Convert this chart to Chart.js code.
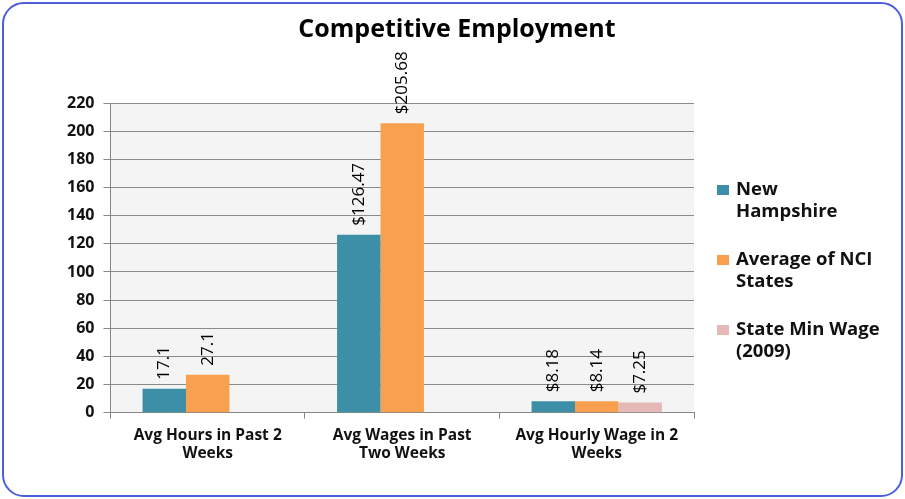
<!DOCTYPE html>
<html>
<head>
<meta charset="utf-8">
<script src="https://cdn.jsdelivr.net/npm/chart.js@4.4.1/dist/chart.umd.min.js"></script>
<style>
  html, body { margin: 0; padding: 0; background: #fff; }
  #wrap { position: relative; width: 905px; height: 499px; }
  #frame {
    position: absolute; left: 2px; top: 2px; width: 897px; height: 491px;
    border: 2px solid #4b5ee0; border-radius: 22px; pointer-events: none;
  }
</style>
</head>
<body>
<div id="wrap">
  <canvas id="chart" width="905" height="499"></canvas>
  <div id="frame"></div>
</div>
<script>
// Data
const chartTitle = 'Competitive Employment';
const categories = [
    ['Avg Hours in Past 2', 'Weeks'],
    ['Avg Wages in Past', 'Two Weeks'],
    ['Avg Hourly Wage in 2', 'Weeks']
];
const seriesNames = ['New Hampshire', 'Average of NCI States', 'State Min Wage (2009)'];
const legendLines = [['New', 'Hampshire'], ['Average of NCI', 'States'], ['State Min Wage', '(2009)']];
const newHampshire = [17.1, 126.47, 8.18];
const nciAverage = [27.1, 205.68, 8.14];
const stateMinWage = [null, null, 7.25];
const valueLabels = [
    ['17.1', '$126.47', '$8.18'],
    ['27.1', '$205.68', '$8.14'],
    [null, null, '$7.25']
];
const yTicks = [0, 20, 40, 60, 80, 100, 120, 140, 160, 180, 200, 220];

const FONT = '"Open Sans", "Liberation Sans", sans-serif';
const colors = ['#3d8fa7', '#f9a04f', '#e6b8b7'];

// light gray plot background
const plotBackground = {
    id: 'plotBackground',
    beforeDraw(chart) {
        const a = chart.chartArea;
        const ctx = chart.ctx;
        ctx.save();
        ctx.fillStyle = '#f4f4f4';
        ctx.fillRect(a.left, a.top, a.right - a.left, a.bottom - a.top);
        ctx.restore();
    }
};

// rotated value labels above bars
const barValueLabels = {
    id: 'barValueLabels',
    afterDatasetsDraw(chart) {
        const ctx = chart.ctx;
        ctx.save();
        ctx.font = '17px ' + FONT;
        ctx.fillStyle = '#000';
        ctx.textAlign = 'left';
        ctx.textBaseline = 'middle';
        chart.data.datasets.forEach((ds, i) => {
            const meta = chart.getDatasetMeta(i);
            meta.data.forEach((bar, j) => {
                const txt = valueLabels[i][j];
                if (!txt) return;
                ctx.save();
                ctx.translate(bar.x, bar.y - 9);
                ctx.rotate(-Math.PI / 2);
                ctx.fillText(txt, 0, 0);
                ctx.restore();
            });
        });
        ctx.restore();
    }
};

// title centred on the whole picture + legend on the right with wrapped labels
const sideLegend = {
    id: 'sideLegend',
    afterDraw(chart) {
        const ctx = chart.ctx;
        ctx.save();
        ctx.font = 'bold 25px ' + FONT;
        ctx.fillStyle = '#000';
        ctx.textAlign = 'center';
        ctx.textBaseline = 'middle';
        ctx.fillText(chartTitle, 457, 30);

        const x = 717;
        const tops = [190, 260, 330];
        ctx.font = 'bold 18.5px ' + FONT;
        ctx.textAlign = 'left';
        chart.data.datasets.forEach((ds, i) => {
            const y = tops[i];
            ctx.fillStyle = ds.backgroundColor;
            ctx.fillRect(x, y - 5, 12, 10);
            ctx.fillStyle = '#111';
            legendLines[i].forEach((line, k) => {
                ctx.fillText(line, x + 19, y + k * 22);
            });
        });
        ctx.restore();
    }
};

const ctx = document.getElementById('chart').getContext('2d');
const chart = new Chart(ctx, {
    type: 'bar',
    data: {
        labels: categories,
        datasets: [
            { label: seriesNames[0], data: newHampshire, backgroundColor: colors[0] },
            { label: seriesNames[1], data: nciAverage, backgroundColor: colors[1] },
            { label: seriesNames[2], data: stateMinWage, backgroundColor: colors[2] }
        ]
    },
    options: {
        responsive: false,
        animation: false,
        layout: { padding: { top: 103, left: 58, right: 211, bottom: 29 } },
        datasets: {
            bar: { categoryPercentage: 0.67, barPercentage: 1.0 }
        },
        plugins: {
            legend: { display: false },
            tooltip: { enabled: false },
            title: { display: false }
        },
        scales: {
            x: {
                grid: { drawOnChartArea: false, drawTicks: true, tickLength: 6, color: '#888' },
                border: { color: '#888' },
                ticks: { color: '#111', padding: 7, font: { family: FONT, size: 15.5, weight: 'bold' } }
            },
            y: {
                min: 0,
                max: 220,
                afterBuildTicks(axis) { axis.ticks = yTicks.map(v => ({ value: v })); },
                grid: { color: '#8a8a8a', tickLength: 7 },
                border: { color: '#888' },
                ticks: { color: '#111', padding: 9, font: { family: FONT, size: 16, weight: 'bold' } }
            }
        }
    },
    plugins: [plotBackground, barValueLabels, sideLegend]
});
</script>
</body>
</html>
